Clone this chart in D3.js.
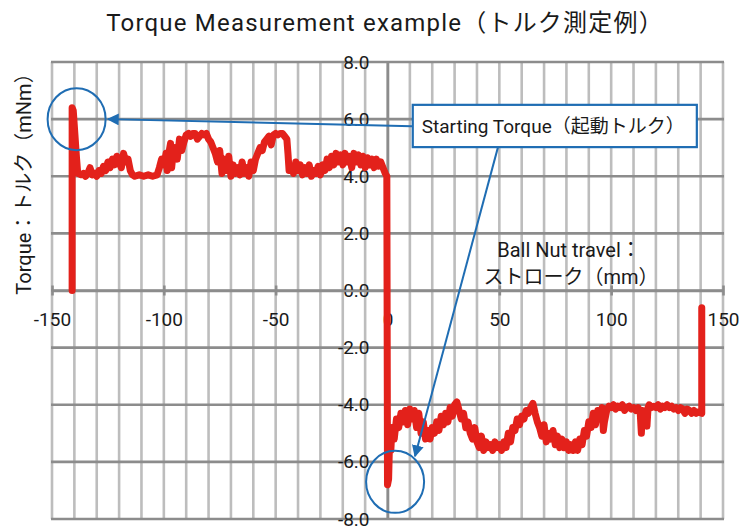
<!DOCTYPE html>
<html>
<head>
<meta charset="utf-8">
<script src="https://cdn.jsdelivr.net/npm/d3@7"></script>
<style>
  body { margin: 0; background: #fff; }
  text { font-family: Roboto, "Noto Sans CJK JP", sans-serif; fill: #1a1a1a; }
</style>
</head>
<body>
<div id="chart"></div>
<script>
// Tick values and labels
const xTickValues = [-150, -100, -50, 0, 50, 100, 150];
const xTickLabels = ["-150", "-100", "-50", "0", "50", "100", "150"];
const yTickValues = [-8, -6, -4, -2, 0, 2, 4, 6, 8];
const yTickLabels = ["-8.0", "-6.0", "-4.0", "-2.0", "0.0", "2.0", "4.0", "6.0", "8.0"];

// Forward run: [stroke mm, torque mNm]
const forwardRun = [
  [-141, 0.0], [-141, 6.4], [-140.5, 6.3], [-139, 4.6], [-138.5, 4.1], [-137, 4.05], [-136, 4.1],
  [-135, 4.0], [-134, 4.1], [-133, 4.3], [-132, 4.05], [-131, 4.1], [-130, 4.0], [-129, 4.2],
  [-128, 4.1], [-127, 4.35], [-126, 4.2], [-125, 4.5], [-124, 4.3], [-123, 4.6], [-122, 4.4],
  [-121, 4.7], [-120, 4.5], [-119, 4.3], [-118, 4.8], [-117, 4.5], [-116, 4.6], [-115, 4.2],
  [-114, 4.05], [-113, 4.0], [-111, 4.05], [-109, 4.0], [-107, 4.05], [-105, 4.0], [-103, 4.05],
  [-102, 4.3], [-101, 4.6], [-100, 4.4], [-99, 4.8], [-98.5, 4.2], [-98, 4.7], [-97, 5.15],
  [-96.5, 4.3], [-96, 4.7], [-95, 5.0], [-94, 4.6], [-93, 5.3], [-92, 4.9], [-91, 5.2],
  [-90, 5.45], [-89, 5.5], [-88, 5.4], [-87, 5.5], [-86, 5.5], [-85, 5.3], [-84, 5.4], [-83, 5.5],
  [-82, 5.45], [-81, 5.5], [-80, 5.3], [-79, 5.2], [-78, 5.0], [-77, 4.8], [-76, 4.5], [-75, 4.9],
  [-74, 4.1], [-73, 4.6], [-72, 4.2], [-71, 4.7], [-70, 4.0], [-69, 4.4], [-68, 4.1], [-67, 4.3],
  [-66, 4.05], [-65, 4.5], [-64, 4.1], [-63, 4.3], [-62, 4.0], [-61, 4.5], [-60, 4.2], [-59, 4.6],
  [-58, 4.8], [-57, 5.0], [-56, 4.9], [-55, 5.2], [-54, 5.3], [-53, 5.4], [-52, 5.1], [-51, 5.45],
  [-50, 5.5], [-49, 5.45], [-48, 5.5], [-47, 5.5], [-46, 5.4], [-45, 5.3], [-44.5, 4.8], [-44, 4.2],
  [-43, 4.3], [-42, 4.1], [-41, 4.5], [-40, 4.2], [-39, 4.4], [-38, 4.05], [-37, 4.3], [-36, 4.1],
  [-35, 4.4], [-34, 4.0], [-33, 4.2], [-32, 4.1], [-31, 4.35], [-30, 4.05], [-29, 4.4], [-28, 4.2],
  [-27, 4.6], [-26, 4.3], [-25, 4.7], [-24, 4.4], [-23, 4.8], [-22, 4.5], [-21, 4.75], [-20, 4.4],
  [-19, 4.8], [-18, 4.5], [-17, 4.7], [-16, 4.3], [-15, 4.8], [-14, 4.5], [-13, 4.75], [-12, 4.4],
  [-11, 4.7], [-10, 4.3], [-9, 4.65], [-8, 4.4], [-7, 4.6], [-6, 4.3], [-5, 4.6], [-4, 4.35],
  [-3, 4.5], [-2, 4.3], [-1, 4.1], [-0.3, 4.0]
];

// Return run
const returnRun = [
  [0, -6.8], [0.5, -6.6], [1, -5.0], [1.5, -5.6], [2, -4.8], [3, -5.2], [4, -4.5], [5, -4.8],
  [6, -4.3], [7, -4.6], [8, -4.2], [9, -4.7], [10, -4.15], [11, -4.5], [12, -4.2], [13, -4.8],
  [14, -4.3], [15, -5.0], [16, -4.6], [17, -5.2], [18, -4.9], [19, -5.2], [20, -4.8], [21, -5.0],
  [22, -4.6], [23, -4.9], [24, -4.4], [25, -4.7], [26, -4.3], [27, -4.6], [28, -4.1], [29, -4.4],
  [30, -4.0], [31, -3.9], [32, -4.2], [33, -4.5], [34, -4.3], [35, -4.8], [36, -4.6], [37, -5.0],
  [38, -5.2], [39, -4.8], [40, -5.3], [41, -5.5], [42, -5.1], [43, -5.6], [44, -5.3], [45, -5.5],
  [46, -5.4], [47, -5.6], [48, -5.3], [49, -5.5], [50, -5.4], [51, -5.6], [52, -5.3], [53, -5.5],
  [54, -5.0], [55, -5.3], [56, -4.8], [57, -4.9], [58, -4.5], [59, -4.7], [60, -4.4], [61, -4.5],
  [62, -4.2], [63, -4.3], [64, -4.1], [65, -3.95], [66, -4.3], [67, -4.6], [68, -4.8], [69, -5.1],
  [70, -4.7], [71, -5.3], [72, -5.0], [73, -5.2], [74, -4.9], [75, -5.4], [76, -5.1], [77, -5.5],
  [78, -5.2], [79, -5.5], [80, -5.3], [81, -5.6], [82, -5.4], [83, -5.6], [84, -5.3], [85, -5.6],
  [86, -5.2], [87, -5.4], [88, -4.9], [89, -5.1], [90, -4.6], [91, -4.8], [92, -4.3], [93, -4.7],
  [94, -4.2], [95, -4.5], [96, -4.1], [96.5, -4.9], [97, -4.6], [98, -4.2], [99, -4.05], [100, -4.1],
  [101, -4.0], [102, -4.15], [103, -4.05], [104, -4.1], [105, -4.0], [106, -4.2], [107, -4.1],
  [108, -4.05], [109, -4.15], [110, -4.1], [111, -4.2], [112, -4.1], [113, -4.3], [113.5, -5.0],
  [114, -4.2], [115, -4.4], [116, -4.75], [116.5, -4.1], [117, -4.0], [118, -4.1], [119, -4.05],
  [120, -4.1], [121, -4.0], [122, -4.15], [123, -4.05], [124, -4.1], [125, -4.0], [126, -4.1],
  [127, -4.05], [128, -4.15], [129, -4.1], [130, -4.2], [131, -4.1], [132, -4.15], [133, -4.3],
  [134, -4.15], [135, -4.2], [136, -4.3], [137, -4.2], [138, -4.3], [139, -4.25], [140.5, -4.3],
  [140.5, -0.6]
];

// Callout annotation (data coordinates)
const calloutText = "Starting Torque（起動トルク）";
const calloutBox = { x0: 11.3, x1: 138.3, y0: 6.5, y1: 5.02 };
const markerEllipses = [{ cx: -139, cy: 6.0 }, { cx: 3.4, cy: -6.7 }];
const leaderLines = [
  { from: [11, 5.75], to: [-125, 6.0] },
  { from: [49.4, 5.02], to: [12.3, -5.8] }
];

const width = 748, height = 526;
const red = "#e3211b", blue = "#1f6db3";

const svg = d3.select("#chart")
  .append("svg")
  .attr("width", width)
  .attr("height", height);

// Scales
const x = d3.scaleLinear().domain([-150, 150]).range([52, 723]);
const y = d3.scaleLinear().domain([-8, 8]).range([519, 62]);

// Vertical grid (every 10 mm)
svg.append("g")
  .selectAll("line")
  .data(d3.range(-150, 151, 10))
  .join("line")
  .attr("x1", d => x(d)).attr("x2", d => x(d))
  .attr("y1", y(8)).attr("y2", y(-8))
  .attr("stroke", "#bdbdbd")
  .attr("stroke-width", 2.6);

// Horizontal grid (every 2 mNm)
svg.append("g")
  .selectAll("line")
  .data(yTickValues)
  .join("line")
  .attr("x1", x(-150) - 1).attr("x2", x(150) + 1)
  .attr("y1", d => y(d)).attr("y2", d => y(d))
  .attr("stroke", "#8c8c8c")
  .attr("stroke-width", 2.6);

// Y axis at x = 0
const yAxis = svg.append("g")
  .attr("transform", `translate(${x(0)},0)`)
  .call(d3.axisLeft(y).tickValues(yTickValues)
    .tickFormat((d, i) => yTickLabels[i])
    .tickSize(0).tickPadding(18));
yAxis.select(".domain").attr("stroke", "#8c8c8c").attr("stroke-width", 2.6);
yAxis.selectAll("text").attr("font-size", 19).attr("font-family", "Roboto, sans-serif").attr("fill", "#1a1a1a");

// X axis at y = 0
const xAxis = svg.append("g")
  .attr("transform", `translate(0,${y(0)})`)
  .call(d3.axisBottom(x).tickValues(xTickValues)
    .tickFormat((d, i) => xTickLabels[i])
    .tickSize(0).tickPadding(22));
xAxis.select(".domain").attr("stroke", "#8c8c8c").attr("stroke-width", 2.6);
xAxis.selectAll(".tick").append("line")
  .attr("y1", -5).attr("y2", 5)
  .attr("stroke", "#8c8c8c").attr("stroke-width", 2.6);
xAxis.selectAll("text").attr("font-size", 19).attr("font-family", "Roboto, sans-serif").attr("fill", "#1a1a1a");

// Torque trace
const line = d3.line()
  .x(d => x(d[0]))
  .y(d => y(d[1]));

svg.append("path")
  .datum(forwardRun.concat(returnRun))
  .attr("fill", "none")
  .attr("stroke", red)
  .attr("stroke-width", 7)
  .attr("stroke-linejoin", "round")
  .attr("stroke-linecap", "round")
  .attr("d", line);

// Arrow marker
svg.append("defs").append("marker")
  .attr("id", "arrow")
  .attr("viewBox", "0 0 10 10")
  .attr("refX", 9).attr("refY", 5)
  .attr("markerWidth", 6).attr("markerHeight", 6)
  .attr("orient", "auto")
  .append("path")
  .attr("d", "M0,0L10,5L0,10Z")
  .attr("fill", blue);

// Circles around starting torque
svg.append("g")
  .selectAll("ellipse")
  .data(markerEllipses)
  .join("ellipse")
  .attr("cx", d => x(d.cx)).attr("cy", d => y(d.cy))
  .attr("rx", 29).attr("ry", 31)
  .attr("fill", "none")
  .attr("stroke", blue)
  .attr("stroke-width", 2);

// Leader lines
svg.append("g")
  .selectAll("line")
  .data(leaderLines)
  .join("line")
  .attr("x1", d => x(d.from[0])).attr("y1", d => y(d.from[1]))
  .attr("x2", d => x(d.to[0])).attr("y2", d => y(d.to[1]))
  .attr("stroke", blue)
  .attr("stroke-width", 2)
  .attr("marker-end", "url(#arrow)");

// Callout box
svg.append("rect")
  .attr("x", x(calloutBox.x0)).attr("y", y(calloutBox.y0))
  .attr("width", x(calloutBox.x1) - x(calloutBox.x0))
  .attr("height", y(calloutBox.y1) - y(calloutBox.y0))
  .attr("fill", "#fff")
  .attr("stroke", blue)
  .attr("stroke-width", 2.2);

svg.append("text")
  .attr("x", x(calloutBox.x0) + 9)
  .attr("y", (y(calloutBox.y0) + y(calloutBox.y1)) / 2)
  .attr("dy", "0.35em")
  .attr("font-size", 19)
  .text(calloutText);

// X axis title
svg.append("text")
  .attr("x", 569).attr("y", 250)
  .attr("dy", "0.35em")
  .attr("text-anchor", "middle")
  .attr("font-size", 20)
  .text("Ball Nut travel：");
svg.append("text")
  .attr("x", 571).attr("y", 277)
  .attr("dy", "0.35em")
  .attr("text-anchor", "middle")
  .attr("font-size", 20)
  .text("ストローク（mm）");

// Y axis title
svg.append("text")
  .attr("transform", "translate(24,179) rotate(-90)")
  .attr("dy", "0.35em")
  .attr("text-anchor", "middle")
  .attr("font-size", 20)
  .text("Torque：トルク（mNm）");

// Title
svg.append("text")
  .attr("x", 385).attr("y", 23)
  .attr("dy", "0.35em")
  .attr("text-anchor", "middle")
  .attr("font-size", 24)
  .attr("letter-spacing", 1.2)
  .text("Torque Measurement example（トルク測定例）");
</script>
</body>
</html>
